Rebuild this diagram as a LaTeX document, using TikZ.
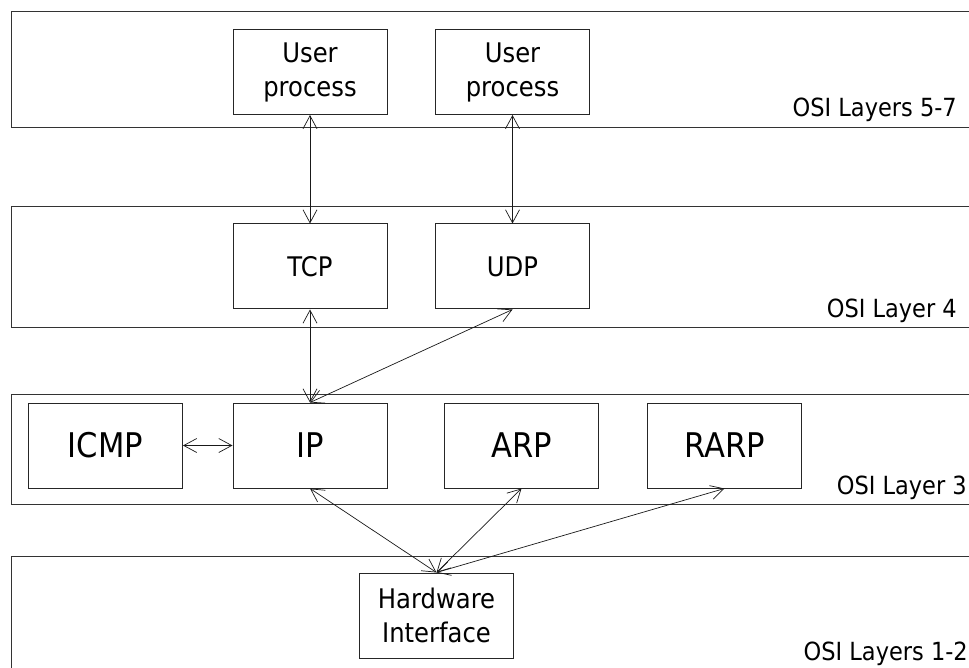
\documentclass[tikz,border=0pt]{standalone}
\usepackage{fontspec}
\setmainfont{DejaVu Sans}[FakeStretch=0.9]
\usetikzlibrary{arrows.meta}

\begin{document}
\begin{tikzpicture}[x=1pt,y=-1pt,
  band/.style={draw=black!80, line width=1pt},
  proc/.style={draw=black!85, line width=1pt, inner sep=0pt, align=center,
               minimum width=154pt, minimum height=85pt},
  small/.style={font=\fontsize{27}{34}\selectfont},
  big/.style={font=\fontsize{34}{40}\selectfont},
  osi/.style={anchor=base east, inner sep=0pt, font=\fontsize{25}{30}\selectfont},
  link/.style={line width=0.7pt, draw=black!90,
    {Straight Barb[length=13pt,width=14pt]}-{Straight Barb[length=13pt,width=14pt]}}]

\useasboundingbox (0,0) rectangle (969,668);
\fill[white] (0,0) rectangle (969,668);
\clip (0,0) rectangle (969,668);

% layer bands (open to the right)
\draw[band] (11,12)  rectangle (990,128);
\draw[band] (11,207) rectangle (990,327);
\draw[band] (11,394) rectangle (990,504);
\draw[band] (11,556) rectangle (990,720);

% layer labels
\node[osi] (l57) at (957,117) {OSI Layers 5-7};
\node[osi] (l4)  at (957,317) {OSI Layer 4};
\node[osi] (l3)  at (967,494) {OSI Layer 3};
\node[osi] (l12) at (968,660) {OSI Layers 1-2};

% protocol boxes
\node[proc,small] (u1)   at (310,72)    {User\\process};
\node[proc,small] (u2)   at (512.5,72)  {User\\process};
\node[proc,small] (tcp)  at (310,266.5) {TCP};
\node[proc,small] (udp)  at (512.5,266.5) {UDP};
\node[proc,big]   (icmp) at (105.5,445.5) {ICMP};
\node[proc,big]   (ip)   at (310,445.5) {IP};
\node[proc,big]   (arp)  at (521.5,445.5) {ARP};
\node[proc,big]   (rarp) at (724.5,445.5) {RARP};
\node[proc,small] (hw)   at (436.5,615.5) {Hardware\\Interface};

% connections
\draw[link] (u1) -- (tcp);
\draw[link] (u2) -- (udp);
\draw[link] (tcp) -- (ip);
\draw[link] (udp.south) -- (ip.north);
\draw[link] (icmp) -- (ip);
\draw[link] (ip.south) -- (hw.north);
\draw[link] (arp.south) -- (hw.north);
\draw[link] (rarp.south) -- (hw.north);
\end{tikzpicture}
\end{document}
